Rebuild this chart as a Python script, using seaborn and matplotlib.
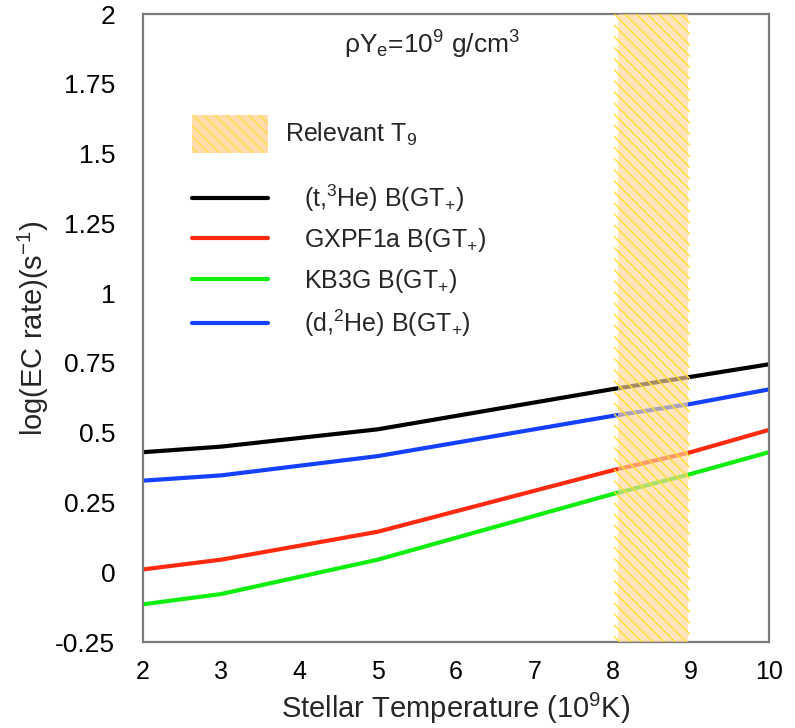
import matplotlib
matplotlib.use("Agg")
import matplotlib.pyplot as plt
import seaborn as sns
import pandas as pd
from matplotlib.lines import Line2D
from matplotlib.patches import Patch
from matplotlib.ticker import MultipleLocator

# ---------------- data ----------------
temps = [2, 3, 5, 8, 9, 10]
t3he = [0.430, 0.450, 0.512, 0.656, 0.700, 0.745]
gxpf1a = [0.010, 0.045, 0.145, 0.365, 0.430, 0.510]
kb3g = [-0.115, -0.078, 0.045, 0.280, 0.352, 0.430]
d2he = [0.328, 0.347, 0.416, 0.560, 0.603, 0.655]

series_names = [r"(t,$^{3}$He) B(GT$_{+}$)", r"GXPF1a B(GT$_{+}$)",
                r"KB3G B(GT$_{+}$)", r"(d,$^{2}$He) B(GT$_{+}$)"]
series_colors = ["#000000", "#ff2a10", "#10ee10", "#1540ff"]
band_lo, band_hi = 8.02, 8.99
band_label = r"Relevant T$_{9}$"
xlabel = r"Stellar Temperature (10$^{9}$K)"
ylabel = r"log(EC rate)(s$^{-1}$)"
annot = r"$\rho$Y$_{e}$=10$^{9}$ g/cm$^{3}$"
ytick_vals = [-0.25, 0, 0.25, 0.5, 0.75, 1, 1.25, 1.5, 1.75, 2]
ytick_text = ["-0.25", "0", "0.25", "0.5", "0.75", "1", "1.25", "1.5", "1.75", "2"]

rows = []
for name, vals in zip(series_names, [t3he, gxpf1a, kb3g, d2he]):
    for t, v in zip(temps, vals):
        rows.append({"T": t, "rate": v, "series": name})
df = pd.DataFrame(rows)

# ---------------- style ----------------
sns.set_theme(style="white")
plt.rcParams["font.family"] = ["Liberation Sans", "DejaVu Sans"]
plt.rcParams["mathtext.fontset"] = "custom"
plt.rcParams["mathtext.rm"] = "Liberation Sans"
plt.rcParams["mathtext.it"] = "Liberation Sans"
plt.rcParams["mathtext.sf"] = "Liberation Sans"
plt.rcParams["hatch.linewidth"] = 1.0

fig = plt.figure(figsize=(7.95, 7.28), dpi=100)
ax = fig.add_axes([143 / 795, 1 - 642 / 728, 626 / 795, 628 / 728])

sns.lineplot(data=df, x="T", y="rate", hue="series", palette=series_colors,
             hue_order=series_names, linewidth=3, ax=ax, legend=False,
             estimator=None, sort=False, zorder=2)

fill_col = "#ffd69a"
hatch_col = "#ffe030"
ax.axvspan(band_lo + 0.05, band_hi - 0.03, facecolor=fill_col, alpha=0.65,
           linewidth=0, zorder=3)
ax.axvspan(band_lo, band_hi, facecolor="none", edgecolor=hatch_col,
           hatch="\\\\\\", linewidth=0, zorder=4)

ax.set_xlim(2, 10)
ax.set_ylim(-0.25, 2)
ax.xaxis.set_major_locator(MultipleLocator(1))
ax.xaxis.set_minor_locator(MultipleLocator(0.25))
ax.yaxis.set_minor_locator(MultipleLocator(0.125))
ax.set_yticks(ytick_vals)
ax.set_yticklabels(ytick_text)

tick_col = "#808080"
ax.tick_params(axis="both", which="both", direction="in", colors=tick_col,
               labelcolor="black", top=False, right=False)
ax.tick_params(axis="both", which="major", length=15, width=1.2)
ax.tick_params(axis="both", which="minor", length=7.5, width=1.2)
ax.tick_params(axis="x", which="major", pad=13, labelsize=18)
ax.tick_params(axis="y", which="major", pad=20, labelsize=19)
for s in ax.spines.values():
    s.set_color("#7a7a7a")
    s.set_linewidth(1.6)
    s.set_visible(True)

ax.set_xlabel(xlabel, fontsize=21, labelpad=5)
ax.set_ylabel(ylabel, fontsize=21, labelpad=3)
ax.text(0.462, 0.951, annot, transform=ax.transAxes, fontsize=19,
        ha="center", va="center")

# legends
band_handle = Patch(facecolor=fill_col, alpha=0.85, edgecolor=hatch_col,
                    hatch="\\\\\\", linewidth=0)
leg1 = ax.legend([band_handle], [band_label], loc="upper left",
                 bbox_to_anchor=(0.078, 0.839), frameon=False, fontsize=18,
                 handlelength=3.04, handleheight=1.95, handletextpad=0.7,
                 borderpad=0, borderaxespad=0)
ax.add_artist(leg1)
line_handles = [Line2D([0], [0], color=c, lw=3) for c in series_colors]
ax.legend(line_handles, series_names, loc="upper left",
          bbox_to_anchor=(0.078, 0.732), frameon=False, fontsize=18,
          handlelength=3.04, handletextpad=1.45, labelspacing=0.5,
          borderpad=0, borderaxespad=0)

fig.savefig("out.png", dpi=100)
